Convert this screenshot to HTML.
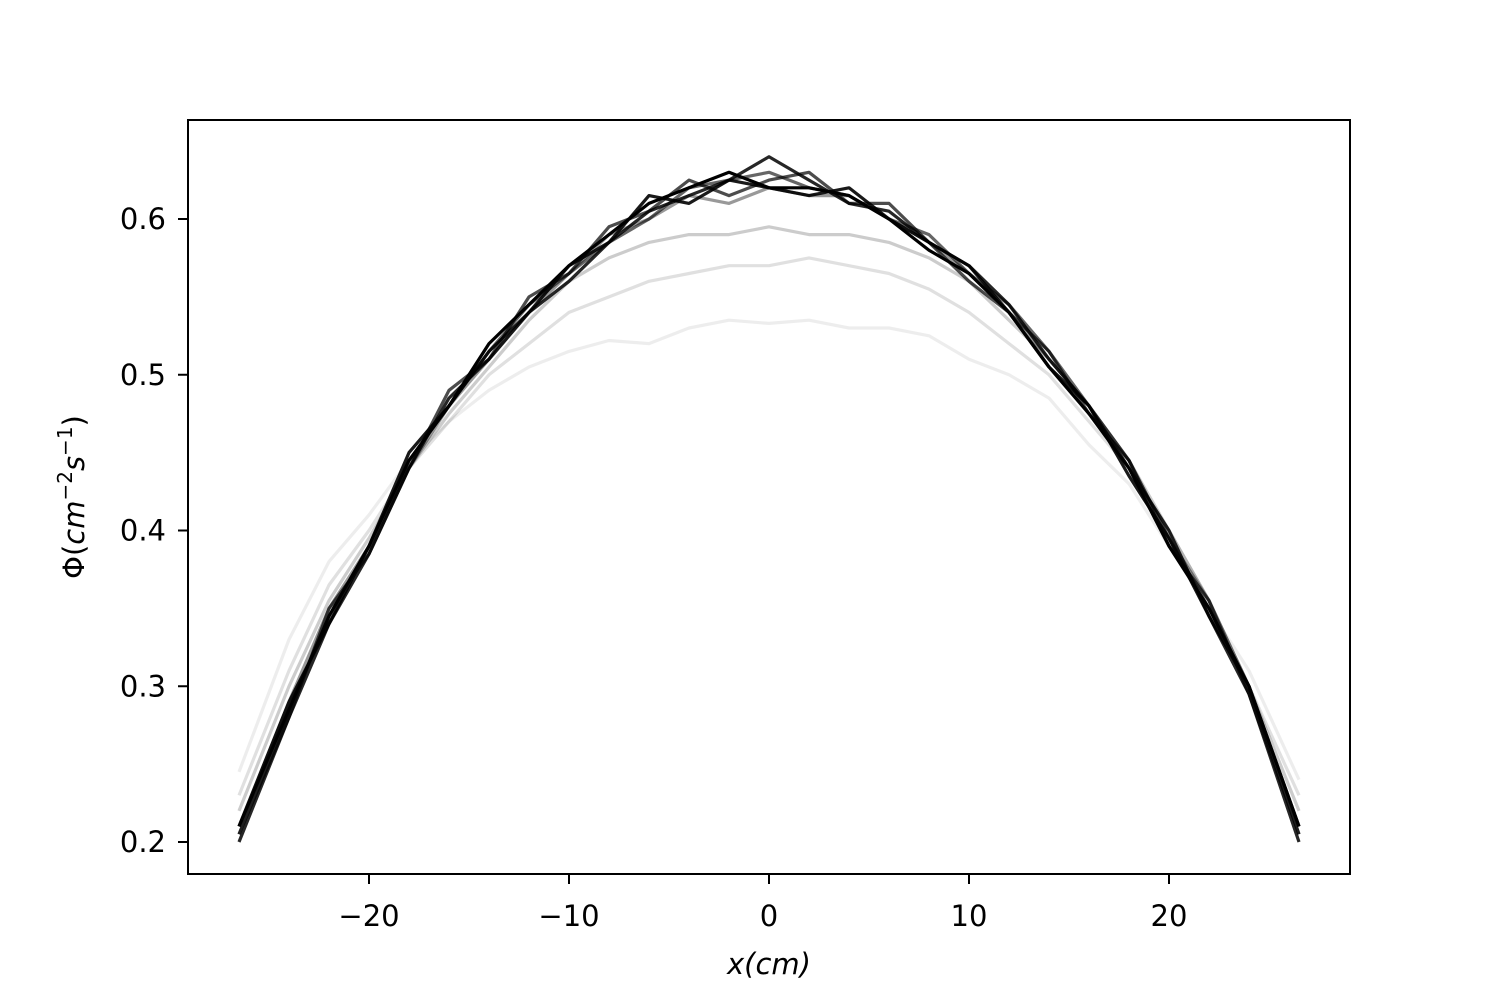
<!DOCTYPE html>
<html><head><meta charset="utf-8"><style>
body{margin:0;background:#fff;}
svg text{font-family:"DejaVu Sans","Liberation Sans",sans-serif;fill:#000;}
</style></head><body>
<svg id="chart" width="1500" height="1000" xmlns="http://www.w3.org/2000/svg">
<rect x="0" y="0" width="1500" height="1000" fill="#fff"/>
<g id="series"></g>
<g id="axes"></g>
<rect x="188" y="120" width="1162" height="754" fill="none" stroke="#000" stroke-width="2"/>
<text x="769" y="974" font-size="29" text-anchor="middle" font-style="italic">x(cm)</text>
<text transform="translate(84,497) rotate(-90)" font-size="29" text-anchor="middle">Φ(<tspan font-style="italic">cm</tspan><tspan font-size="20" dy="-12">−2</tspan><tspan font-style="italic" dy="12">s</tspan><tspan font-size="20" dy="-12">−1</tspan><tspan dy="12">)</tspan></text>
</svg>
<script>
const xs=[-26.5,-24,-22,-20,-18,-16,-14,-12,-10,-8,-6,-4,-2,0,2,4,6,8,10,12,14,16,18,20,22,24,26.5];
const s1=[.245,.33,.38,.41,.445,.47,.49,.505,.515,.522,.52,.53,.535,.533,.535,.53,.53,.525,.51,.50,.485,.455,.43,.39,.35,.31,.24];
const s2=[.23,.31,.365,.40,.44,.47,.50,.52,.54,.55,.56,.565,.57,.57,.575,.57,.565,.555,.54,.52,.50,.47,.44,.40,.355,.30,.23];
const s3=[.22,.30,.355,.395,.44,.475,.505,.535,.56,.575,.585,.59,.59,.595,.59,.59,.585,.575,.56,.535,.51,.48,.445,.40,.355,.30,.22];
const s4=[.21,.29,.35,.39,.44,.48,.51,.54,.565,.59,.60,.615,.61,.62,.615,.615,.60,.585,.565,.54,.51,.48,.445,.395,.355,.30,.21];
const s5=[.205,.285,.345,.39,.445,.48,.515,.545,.565,.585,.60,.62,.625,.63,.62,.615,.60,.59,.565,.545,.515,.48,.445,.395,.35,.30,.205];
const s6=[.20,.28,.34,.385,.44,.485,.51,.54,.56,.585,.605,.615,.625,.64,.625,.61,.605,.585,.57,.545,.51,.48,.44,.40,.345,.295,.20];
const s7=[.21,.285,.345,.39,.445,.48,.52,.545,.57,.59,.61,.62,.63,.62,.62,.615,.60,.58,.565,.54,.505,.475,.44,.39,.35,.30,.21];
const s8=[.205,.28,.35,.385,.44,.49,.51,.55,.565,.595,.605,.625,.615,.625,.63,.61,.61,.585,.56,.54,.515,.475,.445,.39,.355,.295,.205];
const s9=[.21,.29,.34,.39,.45,.48,.515,.54,.57,.585,.615,.61,.625,.62,.615,.62,.60,.585,.57,.54,.505,.48,.435,.395,.345,.30,.21];
const seriesList=[s1,s2,s3,s4,s5,s6,s7,s8,s9];
const opacities=[0.07,0.12,0.2,0.4,0.6,0.85,1,0.7,0.9];
const xTicks=[-20,-10,0,10,20];
const xTickLabels=["−20","−10","0","10","20"];
const yTicks=[0.2,0.3,0.4,0.5,0.6];
const yTickLabels=["0.2","0.3","0.4","0.5","0.6"];
const NS="http://www.w3.org/2000/svg";
function X(v){return 769+v*20;}
function Y(v){return 219-(v-0.6)*1557.5;}
const sg=document.getElementById('series');
seriesList.forEach((s,i)=>{
  const p=document.createElementNS(NS,'polyline');
  
  
  p.setAttribute('points',s.map((v,j)=>X(xs[j]).toFixed(1)+','+Y(v).toFixed(1)).join(' '));
  p.setAttribute('fill','none');p.setAttribute('stroke','#000');
  p.setAttribute('stroke-opacity',opacities[i]);p.setAttribute('stroke-width','3.2');
  p.setAttribute('stroke-linejoin','round');
  sg.appendChild(p);
});
const ag=document.getElementById('axes');
xTicks.forEach((t,i)=>{
  const l=document.createElementNS(NS,'line');
  
  
  l.setAttribute('x1',X(t));l.setAttribute('x2',X(t));l.setAttribute('y1',874);l.setAttribute('y2',884);l.setAttribute('stroke','#000');l.setAttribute('stroke-width','2');
  ag.appendChild(l);
  const tx=document.createElementNS(NS,'text');
  
  
  tx.setAttribute('x',X(t));tx.setAttribute('y',926);tx.setAttribute('font-size','29');tx.setAttribute('text-anchor','middle');
  tx.textContent=xTickLabels[i];ag.appendChild(tx);
});
yTicks.forEach((t,i)=>{
  const l=document.createElementNS(NS,'line');
  
  
  l.setAttribute('x1',178);l.setAttribute('x2',188);l.setAttribute('y1',Y(t));l.setAttribute('y2',Y(t));l.setAttribute('stroke','#000');l.setAttribute('stroke-width','2');
  ag.appendChild(l);
  const tx=document.createElementNS(NS,'text');
  
  
  tx.setAttribute('x',166);tx.setAttribute('y',Y(t)+10);tx.setAttribute('font-size','29');tx.setAttribute('text-anchor','end');
  tx.textContent=yTickLabels[i];ag.appendChild(tx);
});
</script>
</body></html>
